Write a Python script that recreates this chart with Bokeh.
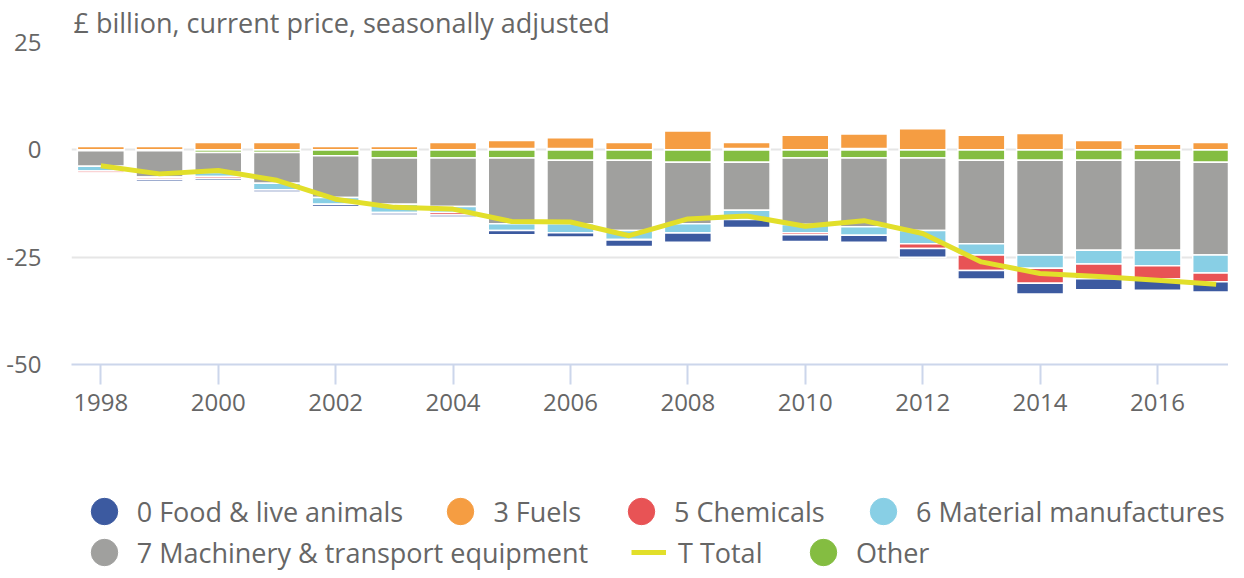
from bokeh.plotting import figure
from bokeh.layouts import column
from bokeh.models import (ColumnDataSource, FixedTicker, Legend, LegendItem,
                          Range1d, PrintfTickFormatter)
from bokeh.embed import file_html
from bokeh.resources import INLINE

# ---------------- data ----------------
years = list(range(1998, 2018))
food = [-0.1, -0.5, -0.5, -0.45, -0.5, -0.5, -0.45, -1.0, -1.0, -1.5,
        -2.1, -1.9, -1.6, -1.6, -2.0, -2.0, -2.5, -2.6, -2.6, -2.4]
fuels = [0.8, 0.8, 1.7, 1.7, 0.8, 0.8, 1.7, 1.9, 2.5, 1.7,
         4.4, 1.4, 3.4, 3.4, 4.9, 3.4, 3.8, 2.2, 1.3, 1.7]
chemicals = [-0.45, -0.4, -0.45, -0.05, -0.05, -0.1, -0.6, 0.3, 0.3, -0.1,
             -0.1, 0.3, -0.45, 0.3, -1.1, -3.6, -3.5, -3.4, -3.1, -2.0]
material = [-1.15, -0.2, -0.9, -1.5, -1.6, -1.9, -1.4, -1.6, -2.1, -2.1,
            -2.1, -2.1, -1.9, -2.0, -3.1, -2.6, -3.1, -3.2, -3.6, -4.2]
machinery = [-3.6, -6.1, -4.7, -7.2, -9.7, -10.8, -11.3, -15.3, -14.8, -16.4,
             -14.3, -11.2, -15.5, -16.0, -16.9, -19.5, -22.1, -21.0, -21.0, -21.6]
other = [-0.2, -0.2, -0.6, -0.6, -1.4, -1.9, -1.9, -1.9, -2.4, -2.4,
         -2.9, -2.9, -1.9, -1.9, -1.9, -2.4, -2.4, -2.4, -2.4, -2.9]
total = [-3.7, -5.6, -4.8, -7.1, -11.5, -13.4, -13.8, -16.7, -16.8, -20.0,
         -16.1, -15.4, -17.8, -16.5, -19.5, -26.1, -28.8, -29.5, -30.4, -31.3]

series_names = ["0 Food & live animals", "3 Fuels", "5 Chemicals",
                "6 Material manufactures", "7 Machinery & transport equipment",
                "Other"]
series_values = [food, fuels, chemicals, material, machinery, other]
series_colors = ["#3c5aa0", "#f59d42", "#e85355", "#88cfe5", "#a0a09e", "#84bd41"]
total_name = "T Total"
total_color = "#e2df2a"
title_text = "£ billion, current price, seasonally adjusted"

x_ticks = list(range(1998, 2017, 2))
y_ticks = [-50, -25, 0, 25]

FONT = "Open Sans"
TXT = "#666666"
W = 1228

# ---------------- main figure ----------------
p = figure(width=W, height=470, output_backend="svg", toolbar_location=None,
           x_range=Range1d(1997.5, 2017.21), y_range=Range1d(-50, 25),
           min_border_left=71, min_border_right=0, min_border_top=40,
           min_border_bottom=106)
p.outline_line_color = None
p.background_fill_color = "white"
p.border_fill_color = "white"

p.title.text = title_text
p.title.align = "left"
p.title.text_font = FONT
p.title.text_font_size = "27px"
p.title.text_font_style = "normal"
p.title.text_color = TXT
p.title.standoff = 3
p.title.offset = 2

# stacking like Highcharts: positives and negatives stacked separately,
# first series farthest from zero
n = len(years)
pos = [0.0] * n
neg = [0.0] * n
for k in reversed(range(len(series_values))):
    vals = series_values[k]
    bottoms, tops = [], []
    for i in range(n):
        v = vals[i]
        if v >= 0:
            b = pos[i]; t = b + v; pos[i] = t
        else:
            b = neg[i]; t = b + v; neg[i] = t
        bottoms.append(b); tops.append(t)
    src = ColumnDataSource(dict(x=years, bottom=bottoms, top=tops))
    p.vbar(x="x", bottom="bottom", top="top", width=0.8,
           source=src, fill_color=series_colors[k],
           line_color="white", line_width=1.5)

tsrc = ColumnDataSource(dict(x=years, y=total))
p.line(x="x", y="y", source=tsrc, line_color=total_color, line_width=5)

p.xaxis.ticker = FixedTicker(ticks=x_ticks)
p.xaxis.axis_line_color = "#ccd6eb"
p.xaxis.axis_line_width = 2
p.xaxis.major_tick_line_color = "#ccd6eb"
p.xaxis.major_tick_line_width = 2
p.xaxis.major_tick_out = 20
p.xaxis.major_tick_in = 0
p.xaxis.minor_tick_line_color = None
p.xaxis.major_label_text_font = FONT
p.xaxis.major_label_text_font_size = "24px"
p.xaxis.major_label_text_color = TXT
p.xaxis.major_label_standoff = 9

p.yaxis.ticker = FixedTicker(ticks=y_ticks)
p.yaxis.formatter = PrintfTickFormatter(format="%d")
p.yaxis.axis_line_color = None
p.yaxis.major_tick_line_color = None
p.yaxis.major_tick_out = 0
p.yaxis.major_tick_in = 0
p.yaxis.minor_tick_line_color = None
p.yaxis.major_label_text_font = FONT
p.yaxis.major_label_text_font_size = "24px"
p.yaxis.major_label_text_color = TXT
p.yaxis.major_label_standoff = 30

p.xgrid.grid_line_color = None
p.ygrid.ticker = FixedTicker(ticks=y_ticks)
p.ygrid.grid_line_color = "#e6e6e6"
p.ygrid.grid_line_width = 2

# ---------------- legend strip (frame aligned with the chart frame) ----------------
LH = 100
lf = figure(width=W, height=LH, output_backend="svg", toolbar_location=None,
            x_range=Range1d(0, 1), y_range=Range1d(0, 1),
            min_border=0, min_border_left=0, min_border_right=0,
            min_border_top=0, min_border_bottom=0)
lf.axis.visible = False
lf.grid.visible = False
lf.outline_line_color = None
lf.background_fill_color = "white"
lf.border_fill_color = "white"

nan = float("nan")
legend_glyphs = []
for k in range(len(series_names)):
    r = lf.scatter(x=[nan], y=[nan], marker="circle", size=10,
                   fill_color=series_colors[k], line_color=series_colors[k])
    legend_glyphs.append(r)
r_total = lf.line(x=[nan, nan], y=[nan, nan], line_color=total_color, line_width=5)

GH = 66
row1_y = LH - 41 - GH / 2
row2_y = LH - 82 - GH / 2
items_layout = [
    (legend_glyphs[0], series_names[0], -0.3, row1_y, GH, -3),
    (legend_glyphs[1], series_names[1], 356.4, row1_y, GH, -3),
    (legend_glyphs[2], series_names[2], 537, row1_y, GH, -3),
    (legend_glyphs[3], series_names[3], 779, row1_y, GH, -3),
    (legend_glyphs[4], series_names[4], -0.3, row2_y, GH, -3),
    (r_total, total_name, 560, row2_y, 35, 12),
    (legend_glyphs[5], series_names[5], 719, row2_y, GH, -3),
]
for r, lab, lx, ly, gw, so in items_layout:
    leg = Legend(items=[LegendItem(label=lab, renderers=[r])],
                 location=(lx, ly), orientation="horizontal",
                 glyph_width=gw, glyph_height=GH, label_standoff=so,
                 padding=0, margin=0, spacing=0,
                 border_line_color=None, background_fill_alpha=0,
                 label_text_font=FONT, label_text_font_size="27px",
                 label_text_color=TXT, label_text_baseline="middle")
    lf.add_layout(leg)

layout = column(p, lf, spacing=0)
open("out.html", "w").write(file_html(layout, INLINE))
